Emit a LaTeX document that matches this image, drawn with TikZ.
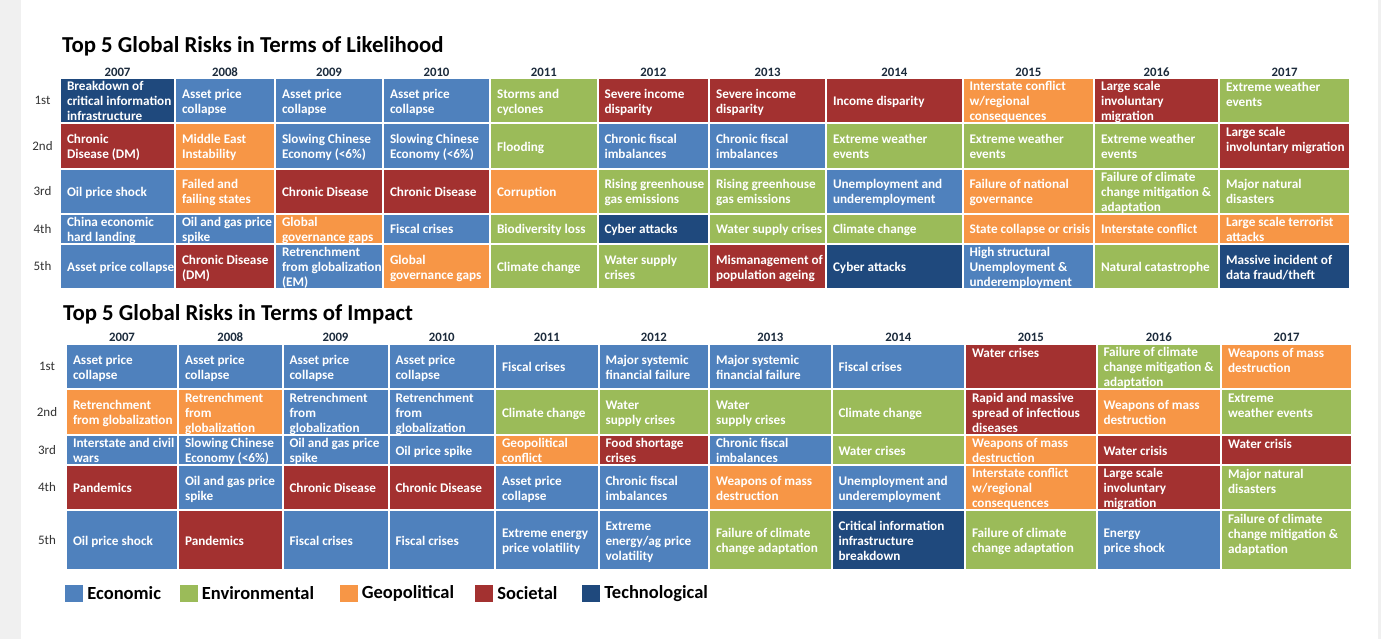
\documentclass[tikz,border=0pt]{standalone}
\usepackage{fontspec}
\setmainfont{Carlito}
\usetikzlibrary{positioning}

\definecolor{econ}{HTML}{4F81BD}
\definecolor{env}{HTML}{9BBB59}
\definecolor{geo}{HTML}{F79646}
\definecolor{soc}{HTML}{A33130}
\definecolor{tech}{HTML}{1F497D}
\definecolor{yeartext}{HTML}{1C2B3C}
\definecolor{ranktext}{HTML}{333333}
\definecolor{pagegray}{HTML}{F0F0F0}

% column and row edges of the two tables, in pixels
\def\lkcols{{60,175,275,383,490,597.5,709,826,962.5,1094,1219,1350}}
\def\lkrows{{78,123.5,169,214,244,289}}
\def\imcols{{66,178,282.5,388.5,495,598.5,709,831.5,965,1096.5,1221,1352}}
\def\imrows{{344,389,435,465,510,570}}

% [valign]{column}{row}{kind}{lines}
\newcommand{\riskcell}[5][c]{%
  \pgfmathsetmacro\xa{\curcols[#2]}%
  \pgfmathsetmacro\xb{\curcols[#2+1]}%
  \pgfmathsetmacro\ya{\currows[#3]}%
  \pgfmathsetmacro\yb{\currows[#3+1]}%
  \pgfmathsetmacro\cw{\xb-\xa-14}%
  \pgfmathsetmacro\ch{\yb-\ya-2}%
  \node[riskbox,fill=#4] (\tbl-#2-#3) at (\xa+1,\ya+1)
    {\parbox[c][\ch pt][#1]{\cw pt}{\raisebox{-2pt}[\height][\depth]{%
      \begin{tabular}{@{}l@{}}#5\end{tabular}}}};}

% years over the columns, ranks beside the rows
\newcommand{\tablehead}[2]{%
  \foreach \yr [count=\i from 0] in {2007,...,2017} {
    \pgfmathsetmacro\xa{\curcols[\i]}
    \pgfmathsetmacro\xb{\curcols[\i+1]}
    \node[year] (\tbl-y\i) at ({(\xa+\xb)/2},#1) {\yr};
  }
  \foreach \rk [count=\r from 0] in {1st,2nd,3rd,4th,5th} {
    \pgfmathsetmacro\ya{\currows[\r]}
    \pgfmathsetmacro\yb{\currows[\r+1]}
    \node[rank] (\tbl-r\r) at (#2,{(\ya+\yb)/2}) {\rk};
  }}

\begin{document}
\begin{tikzpicture}[x=1pt,y=-1pt,
  riskbox/.style={anchor=north west,inner xsep=6pt,inner ysep=0pt,outer sep=0pt,
    text=white,font=\bfseries\fontsize{13.2}{15}\selectfont},
  year/.style={anchor=base,text=yeartext,font=\bfseries\fontsize{12.8}{15}\selectfont},
  rank/.style={text=ranktext,font=\fontsize{13}{15}\selectfont},
  heading/.style={anchor=base west,inner sep=0pt,font=\bfseries\fontsize{22.8}{26}\selectfont},
  legbox/.style={minimum width=18pt,minimum height=17pt,inner sep=0pt},
  legtext/.style={inner sep=0pt,font=\bfseries\fontsize{18.5}{22}\selectfont}]
\useasboundingbox (0,0) rectangle (1381,639);
\fill[pagegray] (0,0) rectangle (1381,639);
\fill[white] (21,0) rectangle (1378,639);

%% likelihood
\node[heading] (lk-title) at (62,53) {Top 5 Global Risks in Terms of Likelihood};
\let\curcols\lkcols \let\currows\lkrows \def\tbl{lk}
\tablehead{76.5}{42.5}
\riskcell{0}{0}{tech}{Breakdown of\\critical information\\infrastructure}
\riskcell{0}{1}{soc}{Chronic\\Disease (DM)}
\riskcell{0}{2}{econ}{Oil price shock}
\riskcell{0}{3}{econ}{China economic\\hard landing}
\riskcell{0}{4}{econ}{Asset price collapse}
\riskcell{1}{0}{econ}{Asset price\\collapse}
\riskcell{1}{1}{geo}{Middle East\\Instability}
\riskcell{1}{2}{geo}{Failed and\\failing states}
\riskcell{1}{3}{econ}{Oil and gas price\\spike}
\riskcell{1}{4}{soc}{Chronic Disease\\(DM)}
\riskcell{2}{0}{econ}{Asset price\\collapse}
\riskcell{2}{1}{econ}{Slowing Chinese\\Economy (<6\%)}
\riskcell{2}{2}{soc}{Chronic Disease}
\riskcell{2}{3}{geo}{Global\\governance gaps}
\riskcell{2}{4}{econ}{Retrenchment\\from globalization\\(EM)}
\riskcell{3}{0}{econ}{Asset price\\collapse}
\riskcell{3}{1}{econ}{Slowing Chinese\\Economy (<6\%)}
\riskcell{3}{2}{soc}{Chronic Disease}
\riskcell{3}{3}{econ}{Fiscal crises}
\riskcell{3}{4}{geo}{Global\\governance gaps}
\riskcell{4}{0}{env}{Storms and\\cyclones}
\riskcell{4}{1}{env}{Flooding}
\riskcell{4}{2}{geo}{Corruption}
\riskcell{4}{3}{env}{Biodiversity loss}
\riskcell{4}{4}{env}{Climate change}
\riskcell{5}{0}{soc}{Severe income\\disparity}
\riskcell{5}{1}{econ}{Chronic fiscal\\imbalances}
\riskcell{5}{2}{env}{Rising greenhouse\\gas emissions}
\riskcell{5}{3}{tech}{Cyber attacks}
\riskcell{5}{4}{env}{Water supply\\crises}
\riskcell{6}{0}{soc}{Severe income\\disparity}
\riskcell{6}{1}{econ}{Chronic fiscal\\imbalances}
\riskcell{6}{2}{env}{Rising greenhouse\\gas emissions}
\riskcell{6}{3}{env}{Water supply crises}
\riskcell{6}{4}{soc}{Mismanagement of\\population ageing}
\riskcell{7}{0}{soc}{Income disparity}
\riskcell{7}{1}{env}{Extreme weather\\events}
\riskcell{7}{2}{econ}{Unemployment and\\underemployment}
\riskcell{7}{3}{env}{Climate change}
\riskcell{7}{4}{tech}{Cyber attacks}
\riskcell{8}{0}{geo}{Interstate conflict\\w/regional\\consequences}
\riskcell{8}{1}{env}{Extreme weather\\events}
\riskcell{8}{2}{geo}{Failure of national\\governance}
\riskcell{8}{3}{geo}{State collapse or crisis}
\riskcell{8}{4}{econ}{High structural\\Unemployment \&\\underemployment}
\riskcell{9}{0}{soc}{Large scale\\involuntary\\migration}
\riskcell{9}{1}{env}{Extreme weather\\events}
\riskcell{9}{2}{env}{Failure of climate\\change mitigation \&\\adaptation}
\riskcell{9}{3}{geo}{Interstate conflict}
\riskcell{9}{4}{env}{Natural catastrophe}
\riskcell[t]{10}{0}{env}{Extreme weather\\events}
\riskcell[t]{10}{1}{soc}{Large scale\\involuntary migration}
\riskcell{10}{2}{env}{Major natural\\disasters}
\riskcell{10}{3}{geo}{Large scale terrorist\\attacks}
\riskcell{10}{4}{tech}{Massive incident of\\data fraud/theft}

%% impact
\node[heading] (im-title) at (63,320) {Top 5 Global Risks in Terms of Impact};
\let\curcols\imcols \let\currows\imrows \def\tbl{im}
\tablehead{341.5}{47}
\riskcell{0}{0}{econ}{Asset price\\collapse}
\riskcell{0}{1}{geo}{Retrenchment\\from globalization}
\riskcell{0}{2}{econ}{Interstate and civil\\wars}
\riskcell{0}{3}{soc}{Pandemics}
\riskcell{0}{4}{econ}{Oil price shock}
\riskcell{1}{0}{econ}{Asset price\\collapse}
\riskcell{1}{1}{geo}{Retrenchment\\from\\globalization}
\riskcell{1}{2}{econ}{Slowing Chinese\\Economy (<6\%)}
\riskcell{1}{3}{econ}{Oil and gas price\\spike}
\riskcell{1}{4}{soc}{Pandemics}
\riskcell{2}{0}{econ}{Asset price\\collapse}
\riskcell{2}{1}{econ}{Retrenchment\\from\\globalization}
\riskcell{2}{2}{econ}{Oil and gas price\\spike}
\riskcell{2}{3}{soc}{Chronic Disease}
\riskcell{2}{4}{econ}{Fiscal crises}
\riskcell{3}{0}{econ}{Asset price\\collapse}
\riskcell{3}{1}{econ}{Retrenchment\\from\\globalization}
\riskcell{3}{2}{econ}{Oil price spike}
\riskcell{3}{3}{soc}{Chronic Disease}
\riskcell{3}{4}{econ}{Fiscal crises}
\riskcell{4}{0}{econ}{Fiscal crises}
\riskcell{4}{1}{env}{Climate change}
\riskcell{4}{2}{geo}{Geopolitical\\conflict}
\riskcell{4}{3}{econ}{Asset price\\collapse}
\riskcell{4}{4}{econ}{Extreme energy\\price volatility}
\riskcell{5}{0}{econ}{Major systemic\\financial failure}
\riskcell{5}{1}{env}{Water\\supply crises}
\riskcell{5}{2}{soc}{Food shortage\\crises}
\riskcell{5}{3}{econ}{Chronic fiscal\\imbalances}
\riskcell{5}{4}{econ}{Extreme\\energy/ag price\\volatility}
\riskcell{6}{0}{econ}{Major systemic\\financial failure}
\riskcell{6}{1}{env}{Water\\supply crises}
\riskcell{6}{2}{econ}{Chronic fiscal\\imbalances}
\riskcell{6}{3}{geo}{Weapons of mass\\destruction}
\riskcell{6}{4}{env}{Failure of climate\\change adaptation}
\riskcell{7}{0}{econ}{Fiscal crises}
\riskcell{7}{1}{env}{Climate change}
\riskcell{7}{2}{env}{Water crises}
\riskcell{7}{3}{econ}{Unemployment and\\underemployment}
\riskcell{7}{4}{tech}{Critical information\\infrastructure\\breakdown}
\riskcell[t]{8}{0}{soc}{Water crises}
\riskcell{8}{1}{soc}{Rapid and massive\\spread of infectious\\diseases}
\riskcell{8}{2}{geo}{Weapons of mass\\destruction}
\riskcell{8}{3}{geo}{Interstate conflict\\w/regional\\consequences}
\riskcell{8}{4}{env}{Failure of climate\\change adaptation}
\riskcell{9}{0}{env}{Failure of climate\\change mitigation \&\\adaptation}
\riskcell{9}{1}{geo}{Weapons of mass\\destruction}
\riskcell{9}{2}{soc}{Water crisis}
\riskcell{9}{3}{soc}{Large scale\\involuntary\\migration}
\riskcell{9}{4}{econ}{Energy\\price shock}
\riskcell[t]{10}{0}{geo}{Weapons of mass\\destruction}
\riskcell[t]{10}{1}{env}{Extreme\\weather events}
\riskcell[t]{10}{2}{soc}{Water crisis}
\riskcell[t]{10}{3}{env}{Major natural\\disasters}
\riskcell[t]{10}{4}{env}{Failure of climate\\change mitigation \&\\adaptation}

%% legend
\node[legbox,fill=econ] (leg-econ) at (74,593.5) {};
\node[legtext,right=4pt of leg-econ] (leg-econ-t) {Economic};
\node[legbox,fill=env] (leg-env) at (188.5,593.5) {};
\node[legtext,right=4pt of leg-env] (leg-env-t) {Environmental};
\node[legbox,fill=geo] (leg-geo) at (348.5,593.5) {};
\node[legtext,right=4pt of leg-geo] (leg-geo-t) {Geopolitical};
\node[legbox,fill=soc] (leg-soc) at (484,593.5) {};
\node[legtext,right=4pt of leg-soc] (leg-soc-t) {Societal};
\node[legbox,fill=tech] (leg-tech) at (591,593.5) {};
\node[legtext,right=4pt of leg-tech] (leg-tech-t) {Technological};
\end{tikzpicture}
\end{document}
